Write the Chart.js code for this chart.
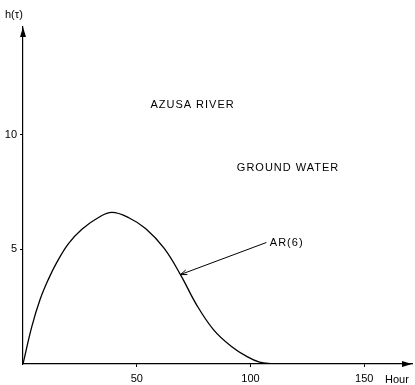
<!DOCTYPE html>
<html>
<head>
<meta charset="utf-8">
<script src="https://cdn.jsdelivr.net/npm/chart.js@4"></script>
<style>
  html, body { margin: 0; padding: 0; background: #fff; }
  canvas { display: block; }
</style>
</head>
<body>
<canvas id="grafico" width="415" height="385"></canvas>
<script>
// valores: h(tau) para o AR(6)
const horas = [0, 3.9, 7.5, 11.1, 14.8, 20.0, 25.9, 33.2, 39.1, 46.5, 54.0, 62.0, 69.2, 76.5, 83.8, 91.2, 98.5, 104, 110];
const hTau  = [0, 1.64, 2.81, 3.68, 4.42, 5.25, 5.88, 6.39, 6.61, 6.38, 5.9, 5.05, 3.90, 2.55, 1.49, 0.80, 0.32, 0.08, 0];
const ticksX = [50, 100, 150];
const ticksY = [5, 10];

const fonte = '11px "Liberation Sans", "DejaVu Sans", sans-serif';

// textos e setas desenhados por cima do grafico
const anotacoes = {
  id: 'anotacoes',
  afterDraw(chart) {
    const c = chart.ctx;
    const a = chart.chartArea;
    const sx = chart.scales.x, sy = chart.scales.y;
    c.save();
    c.fillStyle = '#000';
    c.strokeStyle = '#000';
    c.font = fonte;
    c.textBaseline = 'middle';

    // setas dos eixos
    c.beginPath();
    c.moveTo(a.left, a.top); c.lineTo(a.left - 3, a.top + 10); c.lineTo(a.left + 3, a.top + 10); c.closePath();
    c.fill();
    c.beginPath();
    c.moveTo(a.right, a.bottom); c.lineTo(a.right - 10, a.bottom - 3); c.lineTo(a.right - 10, a.bottom + 3); c.closePath();
    c.fill();

    // rotulos dos eixos
    c.textAlign = 'left';
    c.fillText('h(\u03C4)', 5, 15);
    c.fillText('Hour', 385, 380);

    // textos internos
    c.save();
    c.letterSpacing = '1px';
    c.fillText('AZUSA RIVER', sx.getPixelForValue(56), sy.getPixelForValue(11.3));
    c.fillText('GROUND WATER', sx.getPixelForValue(94), sy.getPixelForValue(8.55));
    c.fillText('AR(6)', sx.getPixelForValue(108.5), sy.getPixelForValue(5.3));
    c.restore();

    // seta do AR(6) ate a curva
    const x0 = sx.getPixelForValue(107), y0 = sy.getPixelForValue(5.3);
    const x1 = sx.getPixelForValue(69.2), y1 = sy.getPixelForValue(3.9);
    c.lineWidth = 1;
    c.beginPath(); c.moveTo(x0, y0); c.lineTo(x1, y1); c.stroke();
    const ang = Math.atan2(y1 - y0, x1 - x0);
    c.beginPath();
    c.moveTo(x1, y1);
    c.lineTo(x1 - 7 * Math.cos(ang - 0.35), y1 - 7 * Math.sin(ang - 0.35));
    c.moveTo(x1, y1);
    c.lineTo(x1 - 7 * Math.cos(ang + 0.35), y1 - 7 * Math.sin(ang + 0.35));
    c.stroke();
    c.restore();
  }
};

const ctx = document.getElementById('grafico').getContext('2d');

const grafico = new Chart(ctx, {
  type: 'line',
  data: {
    datasets: [{
      data: horas.map((h, i) => ({ x: h, y: hTau[i] })),
      borderColor: '#000',
      borderWidth: 1.3,
      pointRadius: 0,
      fill: false,
      tension: 0.4
    }]
  },
  options: {
    responsive: false,
    animation: false,
    layout: { padding: { top: 27, right: 3, left: 0, bottom: 0 } },
    plugins: {
      legend: { display: false },
      tooltip: { enabled: false }
    },
    scales: {
      x: {
        type: 'linear',
        min: 0,
        max: 171,
        afterFit: s => { s.height = 21; },
        afterBuildTicks: s => { s.ticks = ticksX.map(v => ({ value: v })); },
        border: { display: true, color: '#000', width: 1.2 },
        grid: { drawOnChartArea: false, drawTicks: true, tickLength: 3, color: '#000' },
        ticks: { color: '#000', font: { family: '"Liberation Sans", "DejaVu Sans", sans-serif', size: 11 }, padding: 5, maxRotation: 0 }
      },
      y: {
        type: 'linear',
        min: 0,
        max: 14.7,
        afterFit: s => { s.width = 23; },
        afterBuildTicks: s => { s.ticks = ticksY.map(v => ({ value: v })); },
        border: { display: true, color: '#000', width: 1.2 },
        grid: { drawOnChartArea: false, drawTicks: true, tickLength: 3, color: '#000' },
        ticks: { color: '#000', font: { family: '"Liberation Sans", "DejaVu Sans", sans-serif', size: 11 }, padding: 3 }
      }
    }
  },
  plugins: [anotacoes]
});
</script>
</body>
</html>
